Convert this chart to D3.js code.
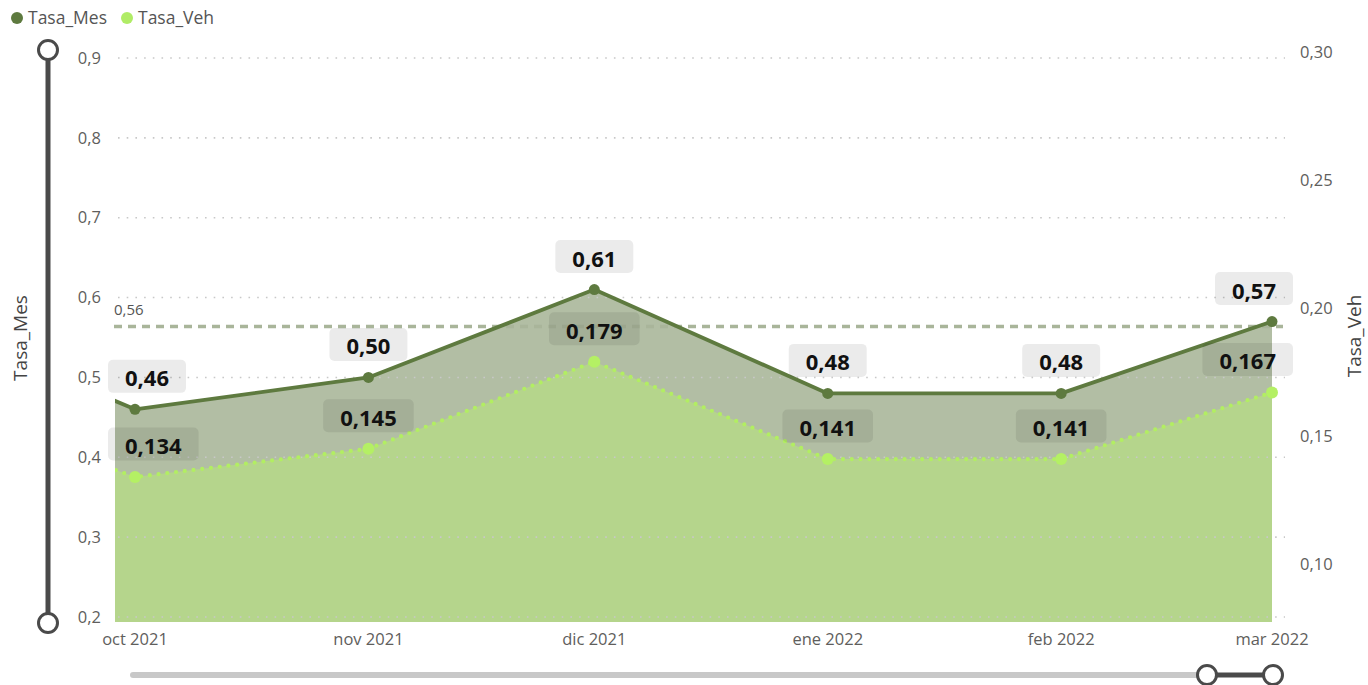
<!DOCTYPE html>
<html>
<head>
<meta charset="utf-8">
<script src="https://cdn.jsdelivr.net/npm/d3@7"></script>
<style>
  body { margin: 0; background: #fff; }
  svg { display: block; font-family: "Open Sans", "Noto Sans", sans-serif; }
</style>
</head>
<body>
<svg id="chart" width="1368" height="685"></svg>
<script>
// Monthly series (September sits just left of the visible window)
const months = ["2021-09-01", "2021-10-01", "2021-11-01", "2021-12-01", "2022-01-01", "2022-02-01", "2022-03-01"];
const monthLabels = ["sep 2021", "oct 2021", "nov 2021", "dic 2021", "ene 2022", "feb 2022", "mar 2022"];
const tasaMes = [0.58, 0.46, 0.50, 0.61, 0.48, 0.48, 0.57];
const tasaVeh = [0.166, 0.134, 0.145, 0.179, 0.141, 0.141, 0.167];
const leftTicks = [0.2, 0.3, 0.4, 0.5, 0.6, 0.7, 0.8, 0.9];
const rightTicks = [0.10, 0.15, 0.20, 0.25, 0.30];
const refValue = 0.56;
const windowStart = "2021-10-01";
const windowEnd = "2022-03-01";

const colMes = "#5e7a3f";
const colMesArea = "#b2bea4";
const colVeh = "#b2ee62";
const colVehArea = "#b5d58c";
const colText = "#605e5c";

const loc = d3.formatLocale({ decimal: ",", thousands: ".", grouping: [3], currency: ["", "€"] });
const f1 = loc.format(".1f"), f2 = loc.format(".2f"), f3 = loc.format(".3f");

const parse = d3.utcParse("%Y-%m-%d");
const data = months.map((m, i) => ({ date: parse(m), label: monthLabels[i], mes: tasaMes[i], veh: tasaVeh[i] }));
const t0 = parse(windowStart), t1 = parse(windowEnd);

const svg = d3.select("#chart");
const plot = { left: 115, right: 1285, top: 40, bottom: 622 };

const x = d3.scaleUtc().domain([t0, t1]).range([135, 1272]);
const yL = d3.scaleLinear().domain([0.2, 0.9]).range([617, 58]);
const yR = d3.scaleLinear().domain([0.10, 0.30]).range([564, 52]);

svg.append("defs").append("clipPath").attr("id", "plotClip")
  .append("rect").attr("x", plot.left).attr("y", plot.top)
  .attr("width", 1273 - plot.left).attr("height", plot.bottom - plot.top);

const g = svg.append("g").attr("clip-path", "url(#plotClip)");

// Areas
g.append("path").datum(data)
  .attr("fill", colMesArea)
  .attr("d", d3.area().x(d => x(d.date)).y0(plot.bottom).y1(d => yL(d.mes)));
g.append("path").datum(data)
  .attr("fill", colVehArea)
  .attr("d", d3.area().x(d => x(d.date)).y0(plot.bottom).y1(d => yR(d.veh)));

// Grid lines (dotted)
svg.append("g").selectAll("line").data(leftTicks).join("line")
  .attr("x1", 118).attr("x2", plot.right)
  .attr("y1", d => yL(d)).attr("y2", d => yL(d))
  .attr("stroke", "#c8c8c8").attr("stroke-width", 1.6)
  .attr("stroke-dasharray", "1.6,7.1");

// Reference line
svg.append("line")
  .attr("x1", 114).attr("x2", 1283)
  .attr("y1", yL(refValue) - 3).attr("y2", yL(refValue) - 3)
  .attr("stroke", "#a9b59a").attr("stroke-width", 3.5)
  .attr("stroke-dasharray", "8,6");
svg.append("text")
  .attr("x", 114).attr("y", yL(refValue) - 15)
  .attr("font-size", 15).attr("fill", "#555")
  .text(f2(refValue));

// Lines
const g2 = svg.append("g").attr("clip-path", "url(#plotClip)");
g2.append("path").datum(data)
  .attr("fill", "none").attr("stroke", colMes).attr("stroke-width", 3.8)
  .attr("stroke-linejoin", "round")
  .attr("d", d3.line().x(d => x(d.date)).y(d => yL(d.mes)));
g2.append("path").datum(data)
  .attr("fill", "none").attr("stroke", colVeh).attr("stroke-width", 4.2)
  .attr("stroke-linecap", "round").attr("stroke-dasharray", "0,8.8")
  .attr("d", d3.line().x(d => x(d.date)).y(d => yR(d.veh)));

const visible = data.filter(d => d.date >= t0 && d.date <= t1);

// Points
svg.append("g").selectAll("circle").data(visible).join("circle")
  .attr("cx", d => x(d.date)).attr("cy", d => yL(d.mes)).attr("r", 5.5)
  .attr("fill", colMes);
svg.append("g").selectAll("circle").data(visible).join("circle")
  .attr("cx", d => x(d.date)).attr("cy", d => yR(d.veh)).attr("r", 6)
  .attr("fill", "#b4f064");

// Data labels
function addLabels(items, yFn, fmt) {
  const lg = svg.append("g");
  items.forEach(d => {
    const cx = x(d.date), cy = yFn(d) - 33;
    const grp = lg.append("g");
    const rect = grp.append("rect").attr("rx", 5).attr("fill", "rgba(0,0,0,0.08)");
    const txt = grp.append("text")
      .attr("font-size", 22).attr("font-weight", 700).attr("fill", "#111")
      .attr("text-anchor", "middle").attr("dominant-baseline", "central")
      .text(fmt(d));
    const w = txt.node().getComputedTextLength() + 34, h = 33;
    const bx = Math.max(108 + w / 2, Math.min(1293 - w / 2, cx));
    txt.attr("x", bx).attr("y", cy + 1);
    rect.attr("x", bx - w / 2).attr("y", cy - h / 2).attr("width", w).attr("height", h);
  });
}
addLabels(visible, d => yL(d.mes), d => f2(d.mes));
addLabels(visible, d => yR(d.veh), d => f3(d.veh));

// Left axis labels
svg.append("g").selectAll("text").data(leftTicks).join("text")
  .attr("x", 101).attr("y", d => yL(d)).attr("dy", "0.35em")
  .attr("text-anchor", "end").attr("font-size", 16.5).attr("fill", colText)
  .text(d => f1(d));

// Right axis labels
svg.append("g").selectAll("text").data(rightTicks).join("text")
  .attr("x", 1300).attr("y", d => yR(d)).attr("dy", "0.35em")
  .attr("text-anchor", "start").attr("font-size", 16.5).attr("fill", colText)
  .text(d => f2(d));

// X axis labels
svg.append("g").selectAll("text").data(visible).join("text")
  .attr("x", d => x(d.date)).attr("y", 645)
  .attr("text-anchor", "middle").attr("font-size", 16.5).attr("fill", colText)
  .text(d => d.label);

// Axis titles
svg.append("text")
  .attr("transform", "translate(27,338) rotate(-90)")
  .attr("text-anchor", "middle").attr("font-size", 19).attr("fill", "#444")
  .text("Tasa_Mes");
svg.append("text")
  .attr("transform", "translate(1361,336) rotate(-90)")
  .attr("text-anchor", "middle").attr("font-size", 19).attr("fill", "#444")
  .text("Tasa_Veh");

// Legend
const legendItems = [{ name: "Tasa_Mes", color: colMes, x: 17 }, { name: "Tasa_Veh", color: "#b0ec66", x: 127 }];
const lgd = svg.append("g");
legendItems.forEach(it => {
  lgd.append("circle").attr("cx", it.x).attr("cy", 18).attr("r", 6).attr("fill", it.color);
  lgd.append("text").attr("x", it.x + 11).attr("y", 18).attr("dy", "0.35em")
    .attr("font-size", 17.5).attr("fill", "#555").text(it.name);
});

// Vertical range slider
const vs = svg.append("g");
vs.append("line").attr("x1", 48).attr("x2", 48).attr("y1", 50).attr("y2", 623)
  .attr("stroke", "#4a4a4a").attr("stroke-width", 5);
[50, 623].forEach(cy => vs.append("circle").attr("cx", 48).attr("cy", cy).attr("r", 9.5)
  .attr("fill", "#fff").attr("stroke", "#4a4a4a").attr("stroke-width", 3));

// Horizontal scroll bar
const hs = svg.append("g");
hs.append("line").attr("x1", 133).attr("x2", 1205).attr("y1", 675).attr("y2", 675)
  .attr("stroke", "#c8c8c8").attr("stroke-width", 6).attr("stroke-linecap", "round");
hs.append("line").attr("x1", 1207).attr("x2", 1273).attr("y1", 675).attr("y2", 675)
  .attr("stroke", "#4a4a4a").attr("stroke-width", 5);
[1207, 1273].forEach(cx => hs.append("circle").attr("cx", cx).attr("cy", 675).attr("r", 9.5)
  .attr("fill", "#fff").attr("stroke", "#4a4a4a").attr("stroke-width", 3));
</script>
</body>
</html>
